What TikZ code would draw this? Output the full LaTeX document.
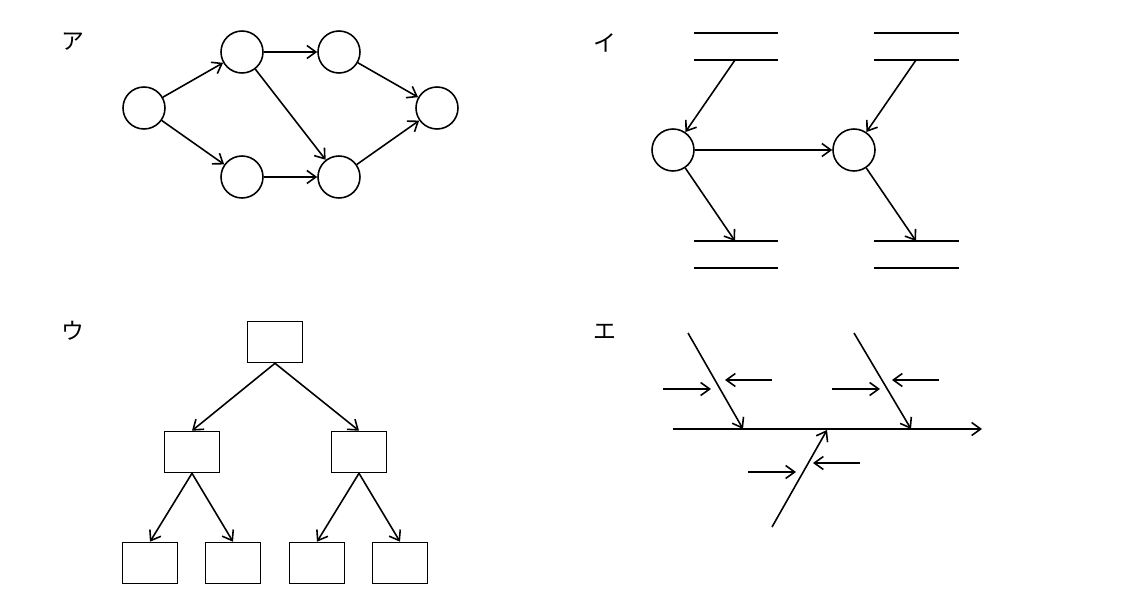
\documentclass[tikz,border=0pt]{standalone}
\usepackage{fontspec}
\newfontfamily\jpfont{Noto Sans CJK JP}
\usetikzlibrary{arrows.meta}

\begin{document}
\begin{tikzpicture}[x=0.02cm, y=-0.02cm, line width=0.9pt,
    >={Straight Barb[length=1.8mm,width=2.6mm]},
    ev/.style={draw, circle, minimum size=8.4mm, inner sep=0pt},
    blk/.style={draw, rectangle, minimum width=11mm, minimum height=8.2mm, inner sep=0pt},
    lbl/.style={font=\jpfont\fontsize{13}{15}\selectfont}]
		\useasboundingbox (0,0) rectangle (1129,612);
		% network (a)
		\node[lbl] (la) at (73,42) {ア};
		\node[ev] (a1) at (144,108) {};
		\node[ev] (a2) at (242,52) {};
		\node[ev] (a3) at (339,52) {};
		\node[ev] (a4) at (242,177) {};
		\node[ev] (a5) at (339,177) {};
		\node[ev] (a6) at (437,108) {};
		\draw[->] (a1) -- (a2);
		\draw[->] (a1) -- (a4);
		\draw[->] (a2) -- (a3);
		\draw[->] (a2) -- (a5);
		\draw[->] (a4) -- (a5);
		\draw[->] (a3) -- (a6);
		\draw[->] (a5) -- (a6);
		% flow with stores (i)
		\node[lbl] (li) at (605,43) {イ};
		\node[ev] (i1) at (673,150) {};
		\node[ev] (i2) at (854,150) {};
		\draw (694,33) -- (778,33);
		\draw (694,60) -- (778,60);
		\draw (874,33) -- (959,33);
		\draw (874,60) -- (959,60);
		\draw (694,241) -- (778,241);
		\draw (694,268) -- (778,268);
		\draw (874,241) -- (959,241);
		\draw (874,268) -- (959,268);
		\coordinate (s1) at (735,60);
		\coordinate (s2) at (916,60);
		\coordinate (s3) at (735,241);
		\coordinate (s4) at (916,241);
		\draw[->] (s1) -- (i1);
		\draw[->] (s2) -- (i2);
		\draw[->] (i1) -- (i2);
		\draw[->] (i1) -- (s3);
		\draw[->] (i2) -- (s4);
		% tree (u)
		\node[lbl] (lu) at (73,331) {ウ};
		\node[blk] (u0) at (275,342) {};
		\node[blk] (u1) at (192,452) {};
		\node[blk] (u2) at (359,452) {};
		\node[blk] (u3) at (150,563) {};
		\node[blk] (u4) at (233,563) {};
		\node[blk] (u5) at (317,563) {};
		\node[blk] (u6) at (400,563) {};
		\draw[->] (u0.south) -- (u1.north);
		\draw[->] (u0.south) -- (u2.north);
		\draw[->] (u1.south) -- (u3.north);
		\draw[->] (u1.south) -- (u4.north);
		\draw[->] (u2.south) -- (u5.north);
		\draw[->] (u2.south) -- (u6.north);
		% fishbone (e)
		\node[lbl] (le) at (605,332) {エ};
		\draw[->] (673,429) -- (982,429);
		\draw[->] (688,333) -- (743,429);
		\draw[->] (854,333) -- (911,429);
		\draw[->] (772,527) -- (827,430);
		\draw[->] (663,389) -- (711,389);
		\draw[->] (772,380) -- (725,380);
		\draw[->] (832,389) -- (880,389);
		\draw[->] (939,380) -- (892,380);
		\draw[->] (748,472) -- (796,472);
		\draw[->] (860,463) -- (813,463);
	\end{tikzpicture}
\end{document}
